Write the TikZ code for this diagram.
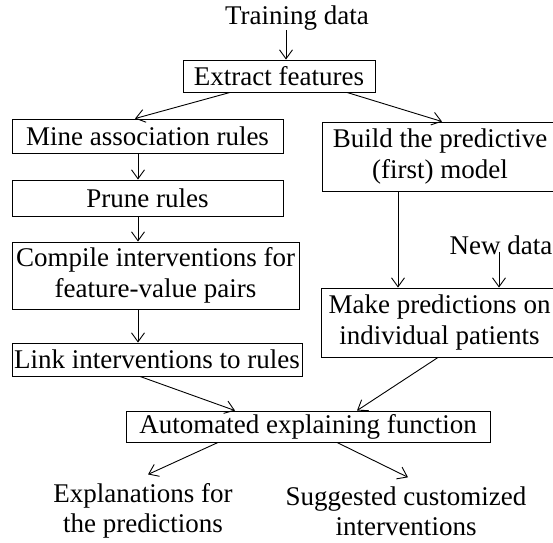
\documentclass[tikz,border=0pt]{standalone}
\usepackage{fontspec}
\setmainfont{Liberation Serif}
\usetikzlibrary{arrows.meta}
\begin{document}
\begin{tikzpicture}[x=1pt,y=-1pt,
  txt/.style={font=\fontsize{27}{31.5}\selectfont, inner sep=0pt, align=center},
  outtxt/.style={font=\fontsize{27}{30}\selectfont, inner sep=0pt, align=center},
  box/.style={txt, draw, line width=0.9pt},
  arr/.style={line width=0.9pt, -{Straight Barb[length=9pt,width=13pt,line width=0.9pt]}}]
\useasboundingbox (0,0) rectangle (553,542);
\begin{scope}
\clip (0,0) rectangle (553,542);
\node[txt] (training) at (297,18) {Training data};
\node[box, minimum width=192pt, minimum height=32pt] (extract) at (279,76) {Extract features};
\node[box, minimum width=271pt, minimum height=34pt] (mine) at (147.5,136) {Mine association rules};
\node[box, minimum width=271pt, minimum height=36pt] (prune) at (147.5,198) {Prune rules};
\node[box, minimum width=287pt, minimum height=67pt] (compile) at (155.5,275.5) {Compile interventions for\\feature-value pairs};
\node[box, minimum width=290pt, minimum height=33pt] (link) at (157,359.5) {Link interventions to rules};
\node[box, minimum width=235pt, minimum height=69pt] (build) at (440,156.5) {Build the predictive\\(first) model};
\node[txt] (newdata) at (501,245) {New data};
\node[box, minimum width=237pt, minimum height=69pt] (make) at (439.5,322.5) {Make predictions on\\individual patients};
\node[box, minimum width=364pt, minimum height=31pt] (auto) at (308,426.5) {Automated explaining function};
\node[outtxt] (expl) at (143,511) {Explanations for\\the predictions};
\node[outtxt] (sugg) at (406,511) {Suggested customized\\interventions};

\draw[arr] ([xshift=-11pt]training.south) -- ([xshift=7pt]extract.north);
\draw[arr] ([xshift=-49pt]extract.south) -- ([xshift=-12.5pt]mine.north);
\draw[arr] ([xshift=68pt]extract.south) -- ([xshift=2pt]build.north);
\draw[arr] ([xshift=-9.5pt]mine.south) -- ([xshift=-9.5pt]prune.north);
\draw[arr] ([xshift=-9.5pt]prune.south) -- ([xshift=-17.5pt]compile.north);
\draw[arr] ([xshift=-17.5pt]compile.south) -- ([xshift=-19pt]link.north);
\draw[arr] ([xshift=-42pt]build.south) -- ([xshift=-41.5pt]make.north);
\draw[arr] ([xshift=-2pt,yshift=3pt]newdata.south) -- ([xshift=59.5pt]make.north);
\draw[arr] ([xshift=-17pt]link.south) -- ([xshift=-73pt]auto.north);
\draw[arr] ([xshift=-1.5pt]make.south) -- ([xshift=49pt]auto.north);
\draw[arr] ([xshift=-90pt]auto.south) -- ([xshift=5pt,yshift=9pt]expl.north);
\draw[arr] ([xshift=29pt]auto.south) -- ([xshift=2pt,yshift=9pt]sugg.north);
\end{scope}
\end{tikzpicture}
\end{document}
